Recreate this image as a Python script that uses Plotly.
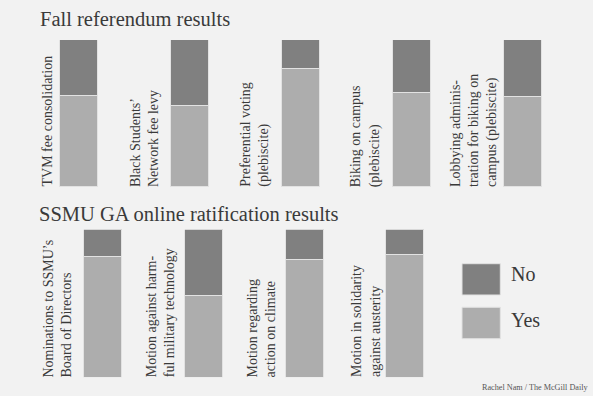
import plotly.graph_objects as go

W, H = 593, 396

# ---------------- data ----------------
fall_labels = [
    "TVM fee consolidation",
    "Black Students’<br>Network fee levy",
    "Preferential voting<br>(plebiscite)",
    "Biking on campus<br>(plebiscite)",
    "Lobbying adminis-<br>tration for biking on<br>campus (plebiscite)",
]
fall_yes = [62, 55, 80, 64, 61]
fall_no = [38, 45, 20, 36, 39]

ga_labels = [
    "Nominations to SSMU’s<br>Board of Directors",
    "Motion against harm-<br>ful military technology",
    "Motion regarding<br>action on climate",
    "Motion in solidarity<br>against austerity",
]
ga_yes = [81.5, 55, 79.5, 83]
ga_no = [18.5, 45, 20.5, 17]

section_titles = ["Fall referendum results", "SSMU GA online ratification results"]
legend_names = ["No", "Yes"]
credit = "Rachel Nam / The McGill Daily"

# ---------------- style ----------------
BG = "#f2f2f2"
NO_C = "#808080"
YES_C = "#adadad"
EDGE = "#e2e2e2"
TXT = "#3a3a3a"
FONT = "Liberation Serif"
LABEL_SIZE = 14
# per-label horizontal nudges (px) of the rotated labels
fall_label_shift = [-22.5, -27, -28, -28, -22]
ga_label_shift = [-27.5, -25, -25, -21]


def X(px):
    return px / W


def Y(py):
    return 1 - py / H


fig = go.Figure()

fall_x = list(range(len(fall_labels)))
ga_x = list(range(len(ga_labels)))

fig.add_trace(go.Bar(x=fall_x, y=fall_yes, name="Yes", marker=dict(color=YES_C, line=dict(color=EDGE, width=1)),
                     width=0.342, xaxis="x", yaxis="y", showlegend=False, hoverinfo="skip"))
fig.add_trace(go.Bar(x=fall_x, y=fall_no, name="No", marker=dict(color=NO_C, line=dict(color=EDGE, width=1)),
                     width=0.342, xaxis="x", yaxis="y", showlegend=False, hoverinfo="skip"))
fig.add_trace(go.Bar(x=ga_x, y=ga_yes, name="Yes", marker=dict(color=YES_C, line=dict(color=EDGE, width=1)),
                     width=0.3775, xaxis="x2", yaxis="y2", showlegend=False, hoverinfo="skip"))
fig.add_trace(go.Bar(x=ga_x, y=ga_no, name="No", marker=dict(color=NO_C, line=dict(color=EDGE, width=1)),
                     width=0.3775, xaxis="x2", yaxis="y2", showlegend=False, hoverinfo="skip"))

hidden = dict(showgrid=False, zeroline=False, showticklabels=False, ticks="", showline=False, fixedrange=True)

annotations = []
# rotated category labels
for i, lab in enumerate(fall_labels):
    annotations.append(dict(x=i, y=0, xref="x", yref="y", text=lab, textangle=-90, showarrow=False,
                            xanchor="right", yanchor="bottom", align="left", xshift=fall_label_shift[i], yshift=-2,
                            font=dict(family=FONT, size=LABEL_SIZE, color=TXT)))
for i, lab in enumerate(ga_labels):
    annotations.append(dict(x=i, y=0, xref="x2", yref="y2", text=lab, textangle=-90, showarrow=False,
                            xanchor="right", yanchor="bottom", align="left", xshift=ga_label_shift[i], yshift=-2,
                            font=dict(family=FONT, size=LABEL_SIZE, color=TXT)))

# section titles
annotations.append(dict(x=X(38), y=Y(19), xref="paper", yref="paper", text=section_titles[0], showarrow=False,
                        xanchor="left", yanchor="middle", font=dict(family=FONT, size=20.5, color=TXT)))
annotations.append(dict(x=X(37), y=Y(214), xref="paper", yref="paper", text=section_titles[1], showarrow=False,
                        xanchor="left", yanchor="middle", font=dict(family=FONT, size=20.5, color=TXT)))

# legend text
annotations.append(dict(x=X(509), y=Y(274), xref="paper", yref="paper", text=legend_names[0], showarrow=False,
                        xanchor="left", yanchor="middle", font=dict(family=FONT, size=20, color=TXT)))
annotations.append(dict(x=X(509), y=Y(319.5), xref="paper", yref="paper", text=legend_names[1], showarrow=False,
                        xanchor="left", yanchor="middle", font=dict(family=FONT, size=20, color=TXT)))

# credit
annotations.append(dict(x=X(590), y=Y(387), xref="paper", yref="paper", text=credit, showarrow=False,
                        xanchor="right", yanchor="middle", font=dict(family=FONT, size=8.2, color="#555555")))

shapes = [
    dict(type="rect", xref="paper", yref="paper", x0=X(462), x1=X(500.3), y0=Y(295), y1=Y(263.7),
         fillcolor=NO_C, line=dict(color=EDGE, width=1)),
    dict(type="rect", xref="paper", yref="paper", x0=X(462), x1=X(500.3), y0=Y(338.7), y1=Y(307.3),
         fillcolor=YES_C, line=dict(color=EDGE, width=1)),
]

fig.update_layout(
    width=W, height=H,
    margin=dict(l=0, r=0, t=0, b=0),
    paper_bgcolor=BG, plot_bgcolor=BG,
    barmode="stack", bargap=0,
    showlegend=False,
    xaxis=dict(domain=[0, 1], range=[-0.711, 4.626], anchor="y", **hidden),
    yaxis=dict(domain=[Y(187), Y(40)], range=[0, 100], anchor="x", **hidden),
    xaxis2=dict(domain=[0, 1], range=[-1.026, 4.865], anchor="y2", **hidden),
    yaxis2=dict(domain=[Y(377.3), Y(229.7)], range=[0, 100], anchor="x2", **hidden),
    annotations=annotations,
    shapes=shapes,
)

fig.write_html(
    "out.html",
    config={"displayModeBar": False},
    post_script="document.body.style.margin='0';document.body.style.overflow='hidden';document.documentElement.style.overflow='hidden';",
)
